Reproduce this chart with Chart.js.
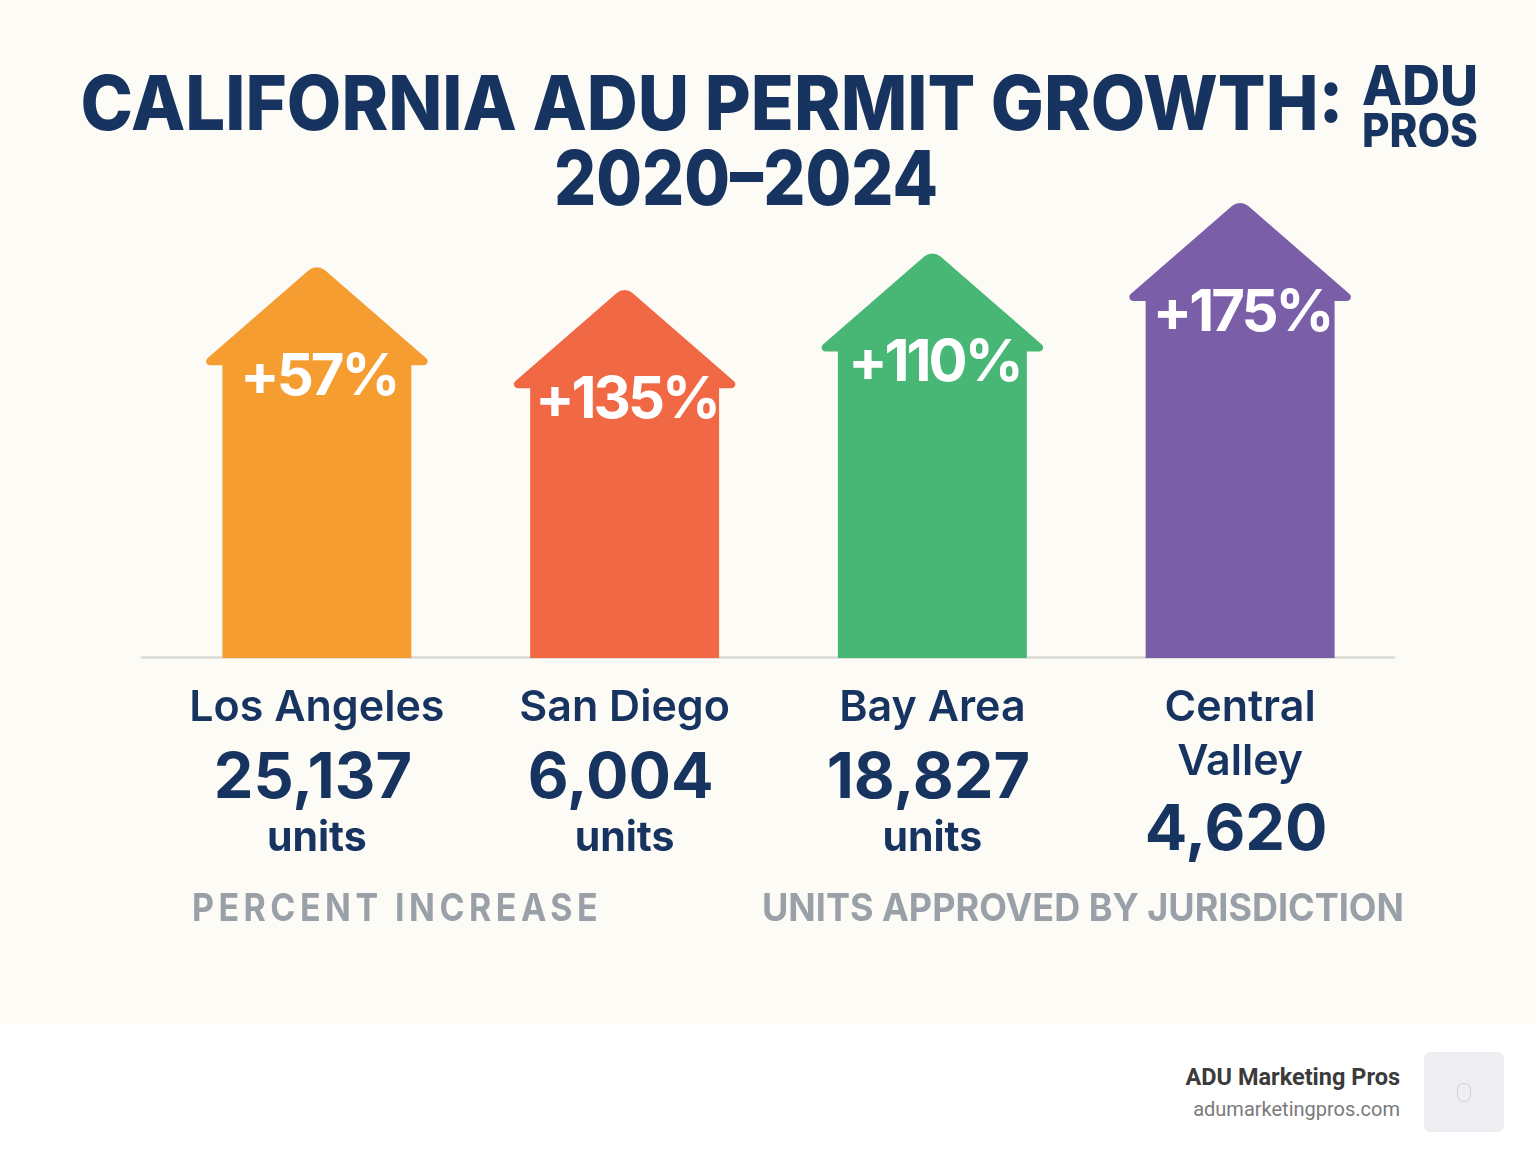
<!DOCTYPE html>
<html>
<head>
<meta charset="utf-8">
<script src="https://cdn.jsdelivr.net/npm/chart.js@4.4.1/dist/chart.umd.min.js"></script>
<style>
  html, body { margin: 0; padding: 0; background: #ffffff; }
  #wrap { position: relative; width: 1536px; height: 1154px; }
  #chart { display: block; }
  .foot { position: absolute; right: 136px; text-align: right; font-family: Roboto, sans-serif; }
  #brand { top: 1063px; font-size: 23.5px; font-weight: 700; color: #3b3b3b; }
  #site { top: 1097px; font-size: 20px; color: #7a7a7a; }
  #logo { position: absolute; left: 1424px; top: 1052px; width: 80px; height: 80px; background: #efeff3; border-radius: 6px; }
  #logo span { position: absolute; left: 33px; top: 31px; width: 12px; height: 17px; border: 1px solid #cfcfd4; border-radius: 6px 6px 7px 7px; }
</style>
</head>
<body>
<div id="wrap">
  <canvas id="chart" width="1536" height="1024"></canvas>
  <div class="foot" id="brand">ADU Marketing Pros</div>
  <div class="foot" id="site">adumarketingpros.com</div>
  <div id="logo"><span></span></div>
</div>
<script>
// data
const regions = ['Los Angeles', 'San Diego', 'Bay Area', 'Central Valley'];
const regionLines = [['Los Angeles'], ['San Diego'], ['Bay Area'], ['Central', 'Valley']];
const percentLabels = ['+57%', '+135%', '+110%', '+175%'];
const unitsApproved = ['25,137', '6,004', '18,827', '4,620'];
// arrow heights as drawn (not to scale with the percents), tallest = 100
const arrowLevels = [86, 81, 89, 100];
const arrowColors = ['#f59d31', '#f06944', '#48b776', '#7a5ea7'];

const NAVY = '#17335f';
const CREAM = '#fdfbf6';

function drawArrow(ctx, x, tip, base, w, color){
  const headH = 102;
  const hw = w / 2 + 23;
  const sy = tip + headH;
  const xl = x - w / 2, xr = x + w / 2;
  ctx.save();
  ctx.fillStyle = color;
  ctx.beginPath();
  ctx.moveTo(xl, base);
  ctx.lineTo(xl, sy);
  ctx.arcTo(x - hw, sy, x, tip, 4);
  ctx.arcTo(x, tip, x + hw, sy, 12);
  ctx.arcTo(x + hw, sy, xr, sy, 4);
  ctx.lineTo(xr, sy);
  ctx.lineTo(xr, base);
  ctx.closePath();
  ctx.fill();
  ctx.restore();
}

const arrowPlugin = {
  id: 'arrowBars',
  beforeDraw(chart){
    const ctx = chart.ctx;
    ctx.save();
    ctx.fillStyle = CREAM;
    ctx.fillRect(0, 0, chart.width, chart.height);
    ctx.restore();
  },
  beforeDatasetDraw(){
    return false;
  },
  afterDatasetsDraw(chart){
    const ctx = chart.ctx;
    const area = chart.chartArea;
    // baseline
    ctx.save();
    ctx.strokeStyle = '#d9d9d6';
    ctx.lineWidth = 2.5;
    ctx.beginPath();
    ctx.moveTo(area.left - 22, area.bottom - 0.5);
    ctx.lineTo(area.right + 1, area.bottom - 0.5);
    ctx.stroke();
    ctx.restore();

    const meta = chart.getDatasetMeta(0);
    meta.data.forEach((bar, i) => {
      const p = bar.getProps(['x', 'y', 'base', 'width'], true);
      drawArrow(ctx, p.x, p.y, p.base, p.width, arrowColors[i]);
      ctx.save();
      ctx.fillStyle = '#ffffff';
      ctx.font = '700 58px Inter, sans-serif';
      ctx.letterSpacing = '-3px';
      ctx.textAlign = 'center';
      ctx.textBaseline = 'alphabetic';
      ctx.fillText(percentLabels[i], p.x + 2, p.y + 132);
      ctx.restore();
    });
  },
  afterDraw(chart){
    const ctx = chart.ctx;
    const xs = chart.scales.x;
    ctx.save();
    ctx.fillStyle = NAVY;
    ctx.textAlign = 'center';
    ctx.textBaseline = 'alphabetic';
    ctx.letterSpacing = '0px';

    // title
    ctx.font = '800 76px Inter, sans-serif';
    ctx.fillText('CALIFORNIA ADU PERMIT GROWTH:', 712, 130, 1263);
    ctx.fillText('2020\u20132024', 746, 205, 384);
    ctx.font = '800 55px Inter, sans-serif';
    ctx.textAlign = 'left';
    ctx.fillText('ADU', 1362, 105, 116);
    ctx.font = '800 46px Inter, sans-serif';
    ctx.fillText('PROS', 1362, 147, 116);
    ctx.textAlign = 'center';

    // region labels under each arrow
    regions.forEach((r, i) => {
      const x = xs.getPixelForValue(i);
      const lines = regionLines[i];
      ctx.fillStyle = NAVY;
      ctx.font = '600 43px Inter, sans-serif';
      lines.forEach((ln, k) => ctx.fillText(ln, x, 721 + k * 54));
      const off = (lines.length - 1) * 52;
      ctx.font = '700 63px Inter, sans-serif';
      ctx.fillText(unitsApproved[i], x - 4, 798 + off);
      if (lines.length === 1) {
        ctx.font = '700 41px Inter, sans-serif';
        ctx.fillText('units', x, 851);
      }
    });

    // section captions
    ctx.fillStyle = '#9aa0a7';
    ctx.font = '700 38px Inter, sans-serif';
    ctx.textAlign = 'left';
    ctx.letterSpacing = '5px';
    ctx.fillText('PERCENT INCREASE', 192, 921, 410);
    ctx.letterSpacing = '0px';
    ctx.fillText('UNITS APPROVED BY JURISDICTION', 762, 921, 642);
    ctx.restore();
  }
};

new Chart(document.getElementById('chart'), {
  type: 'bar',
  data: {
    labels: regions,
    datasets: [{
      label: 'Percent increase',
      data: arrowLevels,
      backgroundColor: arrowColors,
      barPercentage: 0.614,
      categoryPercentage: 1.0
    }]
  },
  options: {
    responsive: false,
    animation: false,
    layout: { padding: { left: 163, right: 142, top: 199, bottom: 366 } },
    plugins: { legend: { display: false }, tooltip: { enabled: false }, title: { display: false } },
    scales: {
      x: { display: false },
      y: { display: false, min: 0, max: 100 }
    }
  },
  plugins: [arrowPlugin]
});
</script>
</body>
</html>
